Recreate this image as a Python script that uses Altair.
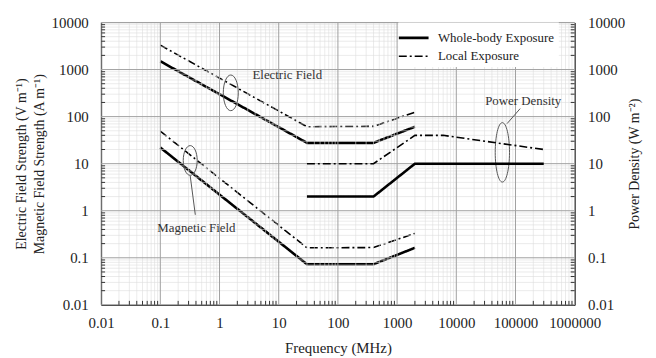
import altair as alt
import pandas as pd

# ---------------- data ----------------
FREQ_TICKS = [0.01, 0.1, 1, 10, 100, 1000, 10000, 100000, 1000000]
VALUE_TICKS = [0.01, 0.1, 1, 10, 100, 1000, 10000]

EXPOSURES = ["Whole-body Exposure", "Local Exposure"]

# Electric field (V/m)
E_WB_F = [0.1, 30, 400, 2000]
E_WB_V = [1500, 27.7, 27.7, 61]
E_LO_F = [0.1, 30, 400, 2000]
E_LO_V = [3300, 61, 62, 124]
# Magnetic field (A/m)
H_WB_F = [0.1, 30, 400, 2000]
H_WB_V = [22, 0.073, 0.073, 0.163]
H_LO_F = [0.1, 30, 400, 2000]
H_LO_V = [49, 0.163, 0.165, 0.33]
# Power density (W/m2)
S_WB_F = [30, 400, 2000, 300000]
S_WB_V = [2, 2, 10, 10]
S_LO_F = [30, 400, 2000, 6000, 300000]
S_LO_V = [10, 10, 40, 40, 20]

# annotation labels (data coordinates)
LABEL_TEXT = ["Electric Field", "Magnetic Field", "Power Density"]
LABEL_F = [3.6, 0.089, 135000]
LABEL_V = [760, 0.42, 210]
LABEL_ALIGN = ["left", "left", "center"]

# annotation ellipses (data coordinates, pixel height, width ratio)
ELL_F = [1.55, 0.32, 60000]
ELL_V = [320, 11.7, 17.4]
ELL_H = [36, 30, 60]
ELL_R = [0.42, 0.47, 0.24]

# leader lines
LEAD_F1 = [0.32, 72000]
LEAD_V1 = [5.5, 71]
LEAD_F2 = [0.39, 120000]
LEAD_V2 = [0.82, 148]

W, H = 478, 285
FONT = "Liberation Serif"


def frame(q, exp, fs, vs):
    return pd.DataFrame({"freq": fs, "value": vs, "series": q + " " + exp, "exposure": exp})


eh_df = pd.concat([
    frame("E", EXPOSURES[0], E_WB_F, E_WB_V),
    frame("E", EXPOSURES[1], E_LO_F, E_LO_V),
    frame("H", EXPOSURES[0], H_WB_F, H_WB_V),
    frame("H", EXPOSURES[1], H_LO_F, H_LO_V),
])
s_df = pd.concat([
    frame("S", EXPOSURES[0], S_WB_F, S_WB_V),
    frame("S", EXPOSURES[1], S_LO_F, S_LO_V),
])

minor_x = [k * 10 ** d for d in range(-2, 6) for k in range(2, 10)]
minor_y = [k * 10 ** d for d in range(-2, 4) for k in range(2, 10)]

xscale = alt.Scale(type="log", domain=[0.01, 1000000])
yscale = alt.Scale(type="log", domain=[0.01, 10000])
label_expr = "'' + datum.value"

dash_scale = alt.Scale(domain=EXPOSURES, range=[[1, 0], [8, 3, 2, 3]])
width_scale = alt.Scale(domain=EXPOSURES, range=[2.6, 1.6])

x_axis = alt.Axis(values=FREQ_TICKS, labelExpr=label_expr, grid=False, ticks=False,
                  domainColor="black", labelFont=FONT, labelFontSize=15, labelColor="#222",
                  labelPadding=11, title="Frequency  (MHz)", titleFont=FONT, titleFontSize=15,
                  titleFontWeight="normal", titleColor="#222", titlePadding=10, labelFlush=False)
y_axis = alt.Axis(values=VALUE_TICKS, labelExpr=label_expr, grid=False, ticks=False,
                  domainColor="black", labelFont=FONT, labelFontSize=15, labelColor="#222",
                  labelPadding=13,
                  title=["Electric Field  Strength (V m\u207b\u00b9)", "Magnetic Field Strength (A m\u207b\u00b9)"],
                  titleFont=FONT, titleFontSize=14, titleFontWeight="normal", titleColor="#222",
                  titlePadding=5, titleLineHeight=18, labelFlush=False)
y_axis_r = alt.Axis(values=VALUE_TICKS, labelExpr=label_expr, grid=False, ticks=False, orient="right",
                    domainColor="black", labelFont=FONT, labelFontSize=15, labelColor="#222",
                    labelPadding=13, title="Power Density (W m\u207b\u00b2)", titleAngle=270,
                    titleFont=FONT, titleFontSize=14, titleFontWeight="normal", titleColor="#222",
                    titlePadding=17, labelFlush=False)

XF = alt.X("freq:Q", scale=xscale)
YV = alt.Y("value:Q", scale=yscale)

# grids
mx = pd.DataFrame({"freq": minor_x})
my = pd.DataFrame({"value": minor_y})
Mx = pd.DataFrame({"freq": FREQ_TICKS})
My = pd.DataFrame({"value": VALUE_TICKS})

grid_minor_x = alt.Chart(mx).mark_rule(color="#dedede", strokeWidth=0.6).encode(x=XF)
grid_minor_y = alt.Chart(my).mark_rule(color="#dedede", strokeWidth=0.6).encode(y=YV)
grid_major_x = alt.Chart(Mx).mark_rule(color="#a0a0a0", strokeWidth=1).encode(x=XF)
grid_major_y = alt.Chart(My).mark_rule(color="#a0a0a0", strokeWidth=1).encode(y=YV)

# inward ticks
tick_x = alt.Chart(mx).mark_rule(color="#333", strokeWidth=1).encode(
    x=XF, y=alt.value(H), y2=alt.value(H - 4))
tick_yl = alt.Chart(my).mark_rule(color="#333", strokeWidth=1).encode(
    y=YV, x=alt.value(0), x2=alt.value(4))
tick_yr = alt.Chart(my).mark_rule(color="#333", strokeWidth=1).encode(
    y=YV, x=alt.value(W), x2=alt.value(W - 4))

legend = alt.Legend(title=None, orient="none", legendX=300, legendY=0, fillColor="white",
                    padding=4, symbolType="M-1.5,0L1.5,0", symbolSize=400,
                    symbolStrokeColor="black", labelFont=FONT, labelFontSize=13,
                    labelColor="#222", labelOffset=13, rowPadding=0, labelLimit=300)

eh_lines = alt.Chart(eh_df).mark_line(color="black").encode(
    x=alt.X("freq:Q", scale=xscale, axis=x_axis),
    y=alt.Y("value:Q", scale=yscale, axis=y_axis),
    detail="series:N",
    strokeDash=alt.StrokeDash("exposure:N", scale=dash_scale, legend=legend),
    strokeWidth=alt.StrokeWidth("exposure:N", scale=width_scale, legend=legend),
)

labels_df = pd.DataFrame({"freq": LABEL_F, "value": LABEL_V, "t": LABEL_TEXT, "a": LABEL_ALIGN})
labels = []
for al in ["left", "center"]:
    labels.append(alt.Chart(labels_df[labels_df.a == al]).mark_text(
        font=FONT, fontSize=13, color="#333", align=al, baseline="middle").encode(
        x=XF, y=YV, text="t:N"))


def ellipse_path(a):
    k = 0.5523
    return (f"M0,-1C{k*a:.3f},-1 {a:.3f},-{k} {a:.3f},0C{a:.3f},{k} {k*a:.3f},1 0,1"
            f"C-{k*a:.3f},1 -{a:.3f},{k} -{a:.3f},0C-{a:.3f},-{k} -{k*a:.3f},-1 0,-1Z")


ellipses = []
for f, v, h, r in zip(ELL_F, ELL_V, ELL_H, ELL_R):
    d = pd.DataFrame({"freq": [f], "value": [v]})
    ellipses.append(alt.Chart(d).mark_point(shape=ellipse_path(r), size=h * h, filled=False,
                                            color="#555", strokeWidth=1, opacity=1).encode(
        x=XF, y=YV))

lead_df = pd.DataFrame({"freq": LEAD_F1, "value": LEAD_V1, "f2": LEAD_F2, "v2": LEAD_V2})
leads = alt.Chart(lead_df).mark_rule(color="#555", strokeWidth=1).encode(
    x=XF, y=YV, x2="f2:Q", y2="v2:Q")

left = alt.layer(eh_lines, grid_minor_x, grid_minor_y, grid_major_x, grid_major_y, tick_x, tick_yl,
                 *ellipses, leads, *labels)

s_lines = alt.layer(
    alt.Chart(s_df).mark_line(color="black").encode(
        x=XF,
        y=alt.Y("value:Q", scale=yscale, axis=y_axis_r),
        detail="series:N",
        strokeDash=alt.StrokeDash("exposure:N", scale=dash_scale, legend=legend),
        strokeWidth=alt.StrokeWidth("exposure:N", scale=width_scale, legend=legend),
    ),
    tick_yr,
)

chart = alt.layer(left, s_lines).resolve_scale(y="independent").properties(
    width=W, height=H,
    autosize=alt.AutoSizeParams(type="none"),
    padding={"left": 94, "top": 13, "right": 74, "bottom": 50},
).configure_view(stroke="black", strokeWidth=1).configure(background="white")

chart.save("out.html", embed_options={"renderer": "svg", "actions": False})
